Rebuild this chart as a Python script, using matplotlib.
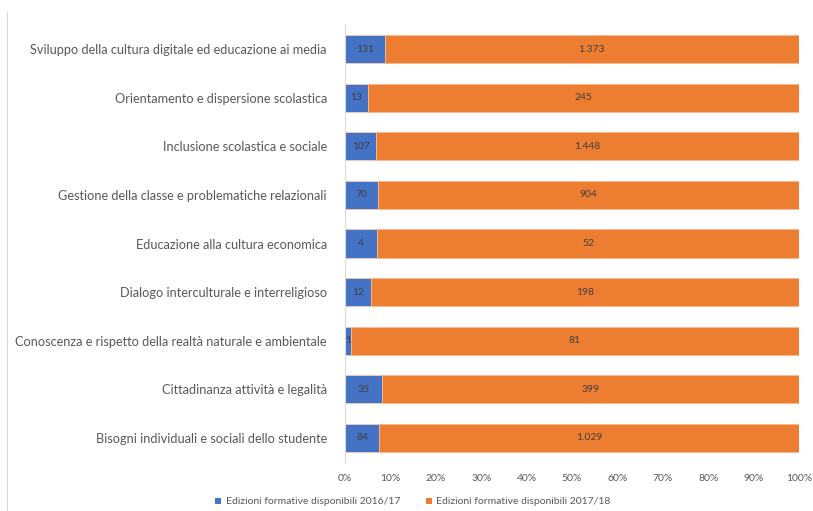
import matplotlib
matplotlib.use("Agg")
import matplotlib.pyplot as plt
from matplotlib.lines import Line2D
from matplotlib.patches import Patch
import numpy as np

categories = [
    "Sviluppo della cultura digitale ed educazione ai media",
    "Orientamento e dispersione scolastica",
    "Inclusione scolastica e sociale",
    "Gestione della classe e problematiche relazionali",
    "Educazione alla cultura economica",
    "Dialogo interculturale e interreligioso",
    "Conoscenza e rispetto della realtà naturale e ambientale",
    "Cittadinanza attività e legalità",
    "Bisogni individuali e sociali dello studente",
]
ed_2016_17 = [131, 13, 107, 70, 4, 12, 1, 35, 84]
ed_2017_18 = [1373, 245, 1448, 904, 52, 198, 81, 399, 1029]
series_names = ["Edizioni formative disponibili 2016/17",
                "Edizioni formative disponibili 2017/18"]
xtick_labels = ["0%", "10%", "20%", "30%", "40%", "50%", "60%", "70%", "80%", "90%", "100%"]

def fmt(v):
    return f"{v:,}".replace(",", ".")

plt.rcParams['font.family'] = ['Lato', 'DejaVu Sans']

W, H = 813, 511
fig = plt.figure(figsize=(W/100, H/100), dpi=100)
ax = fig.add_axes([345/W, 1-462.3/H, (799-345)/W, (462.3-24.7)/H])

a = np.array(ed_2016_17, float)
b = np.array(ed_2017_18, float)
tot = a + b
pa = a / tot
pb = b / tot
y = np.arange(len(categories))

blue = "#4472C4"
orange = "#ED7D31"
h = 0.58
ax.barh(y, pa, height=h, color=blue, edgecolor="#f3c9b0", linewidth=0.6)
ax.barh(y, pb, left=pa, height=h, color=orange, edgecolor="#f7b98f", linewidth=0.6)

txtc = "#404040"
for i in range(len(categories)):
    ax.text(pa[i]/2, y[i], fmt(ed_2016_17[i]), ha="center", va="center",
            fontsize=7.5, color=txtc)
    ax.text(pa[i] + pb[i]/2, y[i], fmt(ed_2017_18[i]), ha="center", va="center",
            fontsize=7.5, color=txtc)

ax.set_ylim(len(categories)-0.5, -0.5)
ax.set_xlim(0, 1)
ax.set_yticks(y)
ax.set_yticklabels(categories, fontsize=9.2, color="#595959")
ax.set_xticks(np.linspace(0, 1, len(xtick_labels)))
ax.set_xticklabels(xtick_labels, fontsize=7.5, color="#595959")
ax.tick_params(axis="both", length=0)
ax.tick_params(axis="y", pad=13)
ax.tick_params(axis="x", pad=8.5)
for s in ["top", "right", "bottom"]:
    ax.spines[s].set_visible(False)
ax.spines["left"].set_color("#d9d9d9")
ax.spines["left"].set_linewidth(0.8)

handles = [Patch(facecolor=blue), Patch(facecolor=orange)]
fig.legend(handles, series_names, loc="center left", bbox_to_anchor=(213/W, 1-502/H),
           ncol=2, frameon=False, fontsize=7.5, handlelength=0.6, handleheight=0.6,
           columnspacing=2.5, handletextpad=0.4, labelcolor="#595959",
           borderaxespad=0, borderpad=0.2)

fig.add_artist(Line2D([6.5/W, 6.5/W], [0, 1-12/H], color="#d9d9d9", linewidth=0.8))

fig.savefig("out.png", dpi=100)
